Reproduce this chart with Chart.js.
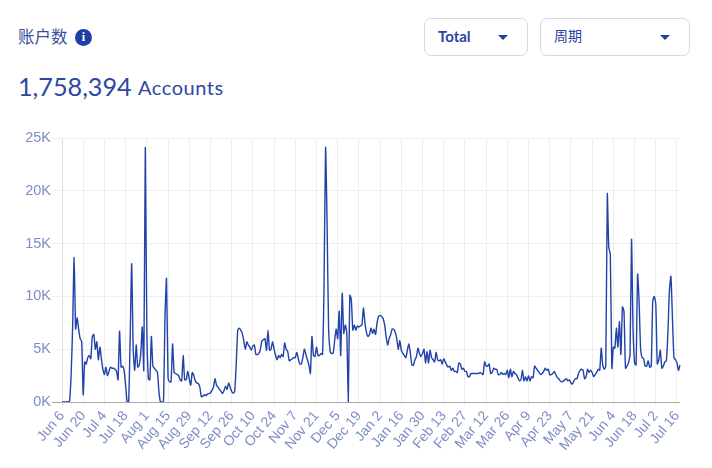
<!DOCTYPE html>
<html><head><meta charset="utf-8">
<script src="https://cdn.jsdelivr.net/npm/chart.js@4"></script>
<style>
html,body{margin:0;padding:0;background:#fff;width:712px;height:468px;overflow:hidden;font-family:Lato,"Noto Sans CJK SC",sans-serif;color:#2a43a0}
.a{position:absolute;white-space:nowrap}
.title{left:18px;top:26px;font-size:16.5px;line-height:22px;color:#3a4f9f}
.info{left:75px;top:29px;width:17px;height:17px;border-radius:50%;background:#1f3fa8;color:#fff;font:bold 12px/17px "Liberation Serif",serif;text-align:center}
.num{left:18px;top:69px;font-size:25.2px;line-height:34px;color:#2f47a2}
.unit{position:absolute;left:120px;top:1px;font-size:20px;letter-spacing:.55px}
.box{top:18px;height:36px;border:1px solid #d3d9e6;border-radius:7px;box-sizing:content-box;background:#fff}
.lab{top:27px;font-size:14px;line-height:18px;color:#2a43a0}
.tri{top:35px;width:0;height:0;border-left:5.5px solid transparent;border-right:5.5px solid transparent;border-top:5.5px solid #24409f}
#wrap{position:absolute;left:0;top:120px;width:712px;height:348px}
</style></head><body>
<div class="a title">账户数</div><div class="a info">i</div>
<div class="a num">1,758,394<span class="unit">Accounts</span></div>
<div class="a box" style="left:424px;width:102px"></div>
<div class="a lab" style="left:438px;font-weight:700;font-size:15px">Total</div><div class="a tri" style="left:498px"></div>
<div class="a box" style="left:540px;width:148px"></div>
<div class="a lab" style="left:554px">周期</div><div class="a tri" style="left:660px"></div>
<div id="wrap"><canvas id="c"></canvas></div>
<script>
const tickLabels=["Jun 6","Jun 20","Jul 4","Jul 18","Aug 1","Aug 15","Aug 29","Sep 12","Sep 26","Oct 10","Oct 24","Nov 7","Nov 21","Dec 5","Dec 19","Jan 2","Jan 16","Jan 30","Feb 13","Feb 27","Mar 12","Mar 26","Apr 9","Apr 23","May 7","May 21","Jun 4","Jun 18","Jul 2","Jul 16"];
const tickEvery=14;
const accountsK=[
0,0,0,0,0.02,0.1,2.5,7,13.7,6.9,8,6.9,6,5.7,
0.7,3.8,3.6,4.2,4.4,4.1,6.2,6.4,5,5.7,4,5.2,4.1,3.1,
2.6,3.3,2.5,2.9,3.3,3.2,3.2,3.1,2.9,2.1,6.7,3.3,3.4,3,
1.6,0,0,6,13.1,5,3,5.4,3.3,3.5,4.6,7.1,3,24.1,
7,2.2,2.1,6.2,3.4,3.2,3,2.8,1,0,0,0.1,8,11.7,
2.3,1.9,1.9,5.5,2.8,2.7,2.6,2.5,2.1,2,4.4,2.1,2.1,2.9,
2.2,1.6,2.8,2.5,2,1.8,1.75,1.4,0.5,0.55,0.7,0.6,0.75,0.8,
0.85,1.1,1.4,2.2,1.6,1.4,1.2,1,0.8,1.1,1.5,1.2,1.8,1.4,
1,0.85,1,3.5,6.8,7,6.8,6.5,5.8,5,5.7,5.4,5.2,4.9,
5.3,5.4,4.5,4.5,4.6,5,5.8,5.9,6,4.9,6.8,4.9,5,5.7,
5,4.4,4,4.4,4.2,4.5,4.3,5.6,5,4.8,3.9,4,4.1,4.2,
4.2,4.7,4.1,3.6,3.6,4.2,5,4.5,4,3.5,2.7,6.2,4.4,4.3,
5.2,4.4,4.4,4.6,4.5,11,24.1,17,7,4.8,4.6,4.6,5.8,6.9,
6,8.6,4.4,10.3,6.5,7.3,6.6,0,10.1,9.7,6.8,7.3,6.8,7.2,
7.1,7.2,7.3,8.9,7.5,6.6,6.2,6.4,7,6.5,6.9,6.4,7.5,8.1,
8.2,8.1,7.9,7.3,6.2,5.4,6,6.4,6.9,6.9,6.6,6,5,5.8,
4.9,4.6,4.4,4.2,4.9,5.5,4.6,3.5,3.5,4,4.3,5.1,4.6,4.3,
4.6,5,3.7,4.8,3.7,4.9,4.2,4,3.8,4.7,4,3.9,4,3.6,
4.1,3.8,3.5,3.3,3.4,3,3.2,2.9,2.9,2.8,3.7,3.6,3.1,3.2,
2.9,2.9,2.4,2.4,2.7,2.7,2.7,2.7,2.7,2.7,2.8,2.7,2.6,3.8,
3.4,3.4,3.6,2.7,2.8,3.2,3.1,3.1,2.6,2.6,2.8,2.6,2.7,2.6,
3,2.3,3.1,2.4,2.9,2.7,2.6,2.3,2,2.1,3,2,2.4,2,
2.5,2,2.4,2.3,3.4,3.2,3,2.8,2.6,2.7,2.9,3.2,3,3.1,
2.6,2.6,2.7,2.9,2.6,2.3,2.2,2,1.9,2,2.1,2.2,2,2.1,
1.8,1.7,2,2.2,2.2,2.7,3,3.1,3,2.2,2.4,3.1,2.8,3,
2.8,2.4,2.6,2.8,3.1,3,5.1,3.5,3.1,3.4,19.7,14.6,14,3.2,
5.2,5.1,7,5.2,7.6,4.5,9,8.6,3.2,3.4,3.7,4.5,15.4,7,
3.7,3.5,12.1,9.5,5,4.2,4.1,3.4,3.4,3.9,3.3,3.4,9.5,10,
9.3,3.6,4,4.9,3.2,3.4,3.8,3.9,6.5,10.5,11.9,8,4.2,4,
3.7,3,3.5];
const labels=accountsK.map((_,i)=>i%tickEvery===0?tickLabels[i/tickEvery]:"");
const tickColor="#7f8dc6";
new Chart(document.getElementById("c"),{
 type:"line",
 data:{labels,datasets:[{data:accountsK.map(v=>v*1000),borderColor:"#2142a8",borderWidth:1.4,pointRadius:0,tension:0.2,fill:false}]},
 options:{
  responsive:true,maintainAspectRatio:false,animation:false,
  layout:{padding:{left:0,right:32,top:18,bottom:0}},
  plugins:{legend:{display:false},tooltip:{enabled:false}},
  scales:{
   x:{offset:false,
    afterBuildTicks:s=>{s.ticks=s.ticks.filter(t=>t.value%tickEvery===0)},
    afterFit:s=>{s.height=66},
    grid:{color:c=>c.index===0?"#dcdcdc":"#eeeeee",lineWidth:1,tickLength:3},
    border:{display:false},
    ticks:{autoSkip:false,maxRotation:50,minRotation:50,padding:3,color:tickColor,font:{family:"Liberation Sans",size:14}}},
   y:{min:0,max:25000,
    afterFit:s=>{s.width=62},
    grid:{color:c=>c.tick.value===0?"#aaaaaa":"#eeeeee",lineWidth:1,tickLength:10},
    border:{display:false},
    ticks:{stepSize:5000,padding:1,color:tickColor,font:{family:"Liberation Sans",size:14.5},callback:v=>(v/1000)+"K"}}
  }
 }
});
</script></body></html>
